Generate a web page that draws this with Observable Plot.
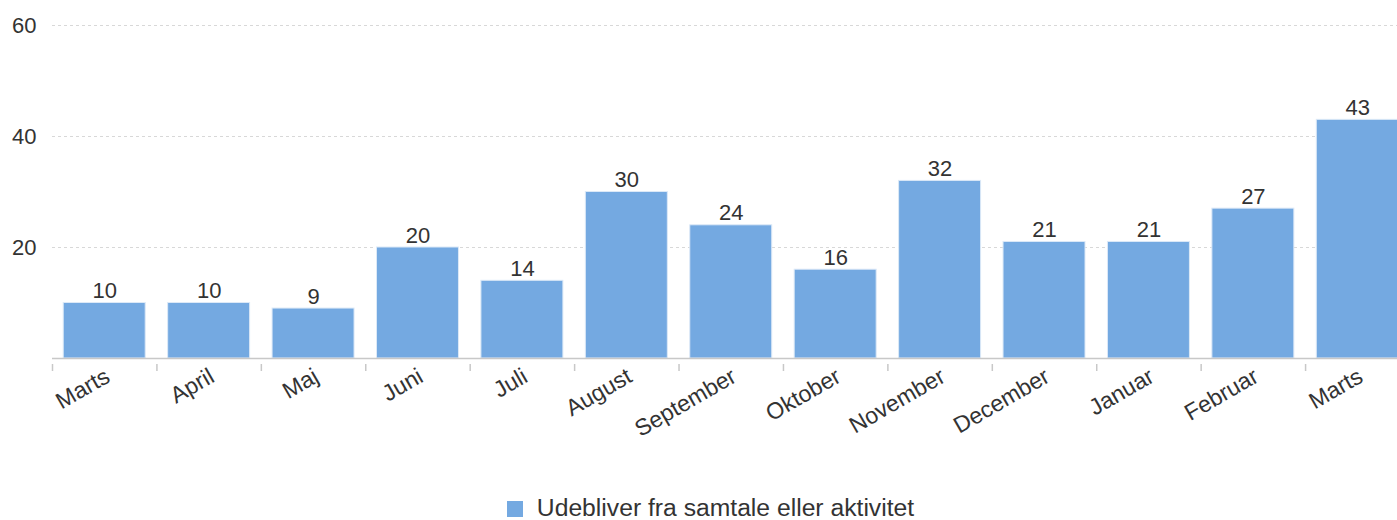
<!DOCTYPE html>
<html>
<head>
<meta charset="utf-8">
<script src="https://cdn.jsdelivr.net/npm/d3@7"></script>
<script src="https://cdn.jsdelivr.net/npm/@observablehq/plot@0.6"></script>
<style>
  html, body { margin: 0; padding: 0; background: #fff; overflow: hidden; }
  #wrap { position: relative; width: 1397px; height: 520px; font-family: "Liberation Sans", Arial, sans-serif; }
  #legend { position: absolute; left: 12px; top: 494px; width: 1397px; text-align: center; font-size: 24.7px; color: #333; line-height: 28px; }
  #legend .sw { display: inline-block; width: 16px; height: 16px; background: #74a9e1; margin-right: 14px; vertical-align: -1px; }
</style>
</head>
<body>
<div id="wrap">
  <div id="chart"></div>
  <div id="legend"><span class="sw"></span><span>Udebliver fra samtale eller aktivitet</span></div>
</div>
<script>
const months = ["Marts", "April", "Maj", "Juni", "Juli", "August", "September", "Oktober", "November", "December", "Januar", "Februar", "Marts"];
const values = [10, 10, 9, 20, 14, 30, 24, 16, 32, 21, 21, 27, 43];
const yTicks = [20, 40, 60];
const seriesName = "Udebliver fra samtale eller aktivitet";

const data = months.map((m, i) => ({idx: i, month: m, value: values[i]}));
const idxs = data.map(d => d.idx);
const barColor = "#74a9e1";
const textColor = "#333333";
const step = (1409.5 - 52) / months.length;

const chart = Plot.plot({
  width: 1397,
  height: 494,
  marginLeft: 52,
  marginRight: 0,
  marginTop: 20,
  marginBottom: 130,
  style: {fontFamily: "'Liberation Sans', Arial, sans-serif", background: "#fff", overflow: "hidden"},
  x: {type: "band", domain: idxs, range: [52, 1409.5], round: false, paddingInner: 0.215, paddingOuter: 0.1075, label: null, axis: null},
  y: {domain: [0, 60], range: [358, 25], label: null, axis: null},
  marks: [
    Plot.gridY(yTicks, {stroke: "#d8d8d8", strokeOpacity: 1, strokeDasharray: "3,3"}),
    Plot.barY(data, {x: "idx", y: "value", fill: barColor, stroke: "#dce9f7", strokeWidth: 1}),
    Plot.ruleY([0], {stroke: "#c8c8c8", strokeWidth: 1.5}),
    Plot.axisX(idxs, {tickSize: 7, tickFormat: () => "", dx: -step / 2, stroke: "#c8c8c8", strokeWidth: 1.5, label: null}),
    Plot.axisX(idxs, {tickSize: 0, tickPadding: 10, tickRotate: -30, dx: 3, tickFormat: i => months[i], fontSize: 23, fill: textColor, label: null}),
    Plot.axisY(yTicks, {tickSize: 0, tickPadding: 16, fontSize: 22, fill: textColor, label: null}),
    Plot.text(data, {x: "idx", y: "value", text: d => String(d.value), lineAnchor: "bottom", dy: -5, fontSize: 22, fill: textColor})
  ]
});
document.getElementById("chart").appendChild(chart);
</script>
</body>
</html>
